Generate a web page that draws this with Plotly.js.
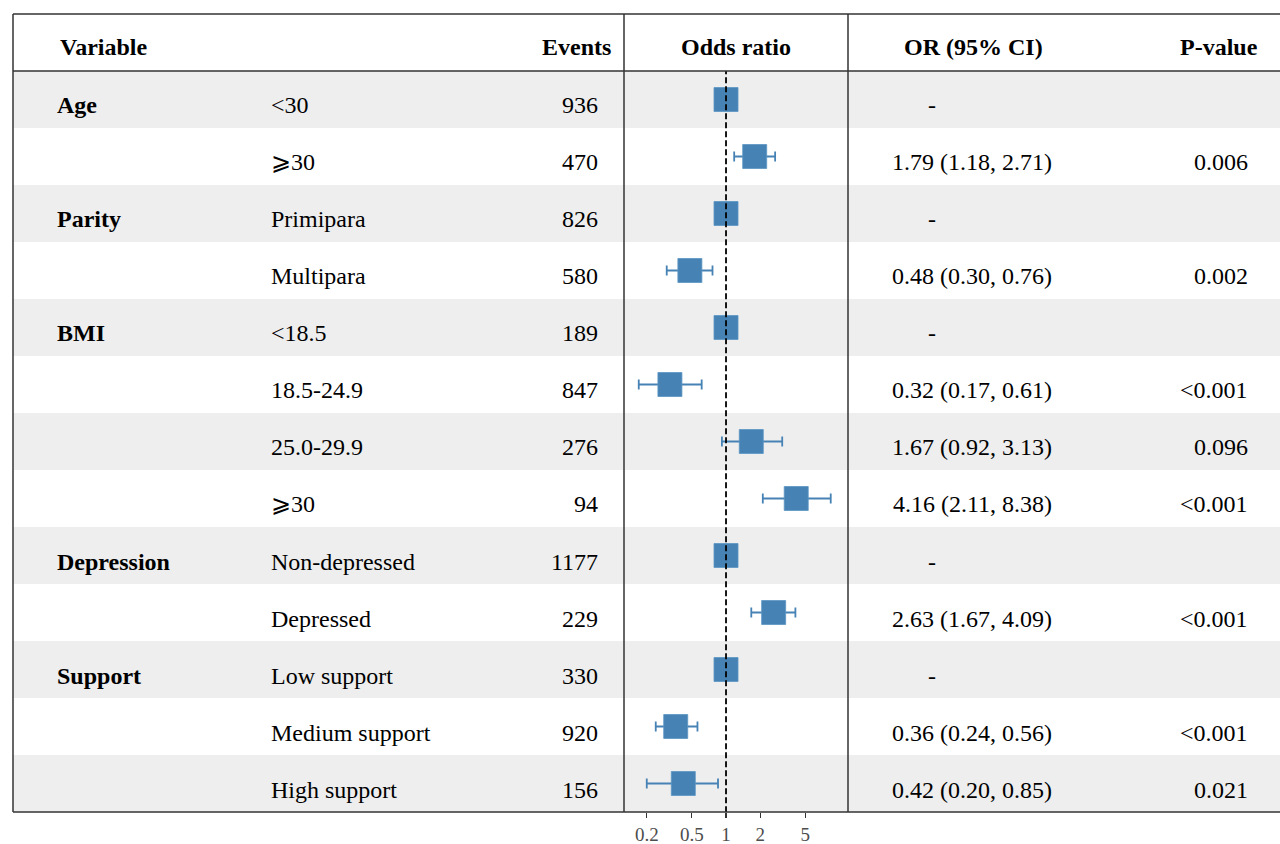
<!DOCTYPE html>
<html>
<head>
<meta charset="utf-8">
<script src="https://cdn.plot.ly/plotly-3.0.1.min.js"></script>
<style>html,body{margin:0;padding:0;background:#fff;}#chart{width:1280px;height:844px;}</style>
</head>
<body>
<div id="chart"></div>
<script>
const groups = ["Age","","Parity","","BMI","","","","Depression","","Support","",""];
const subgroups = ["<30","⩾30","Primipara","Multipara","<18.5","18.5-24.9","25.0-29.9","⩾30","Non-depressed","Depressed","Low support","Medium support","High support"];
const events = [936,470,826,580,189,847,276,94,1177,229,330,920,156];
const oddsRatio = [1,1.79,1,0.48,1,0.32,1.67,4.16,1,2.63,1,0.36,0.42];
const ciLow = [1,1.18,1,0.30,1,0.17,0.92,2.11,1,1.67,1,0.24,0.20];
const ciHigh = [1,2.71,1,0.76,1,0.61,3.13,8.38,1,4.09,1,0.56,0.85];
const orText = ["-","1.79 (1.18, 2.71)","-","0.48 (0.30, 0.76)","-","0.32 (0.17, 0.61)","1.67 (0.92, 3.13)","4.16 (2.11, 8.38)","-","2.63 (1.67, 4.09)","-","0.36 (0.24, 0.56)","0.42 (0.20, 0.85)"];
const pValues = ["","0.006","","0.002","","<0.001","0.096","<0.001","","<0.001","","<0.001","0.021"];
const tickVals = [0.2,0.5,1,2,5];
const tickText = ["0.2","0.5","1","2","5"];
const headers = ["Variable","Events","Odds ratio","OR (95% CI)","P-value"];

const W = 1280, H = 844;
const px = v => v / W;
const py = v => 1 - v / H;
const FONT = "Liberation Serif, DejaVu Serif, Times New Roman, serif";
const BLUE = "#4682B4";
const n = subgroups.length;
const rows = subgroups.map((_, i) => i + 1);

const shapes = [];
rows.forEach(r => {
  if (r % 2 === 1) {
    shapes.push({type:"rect", xref:"paper", yref:"y", x0:px(13), x1:1, y0:r-0.5, y1:r+0.5,
      fillcolor:"#EEEEEE", line:{width:0}, layer:"below"});
  }
});
const lineStyle = {color:"#333333", width:1.5};
shapes.push({type:"line", xref:"paper", yref:"paper", x0:px(13), x1:1, y0:py(14), y1:py(14), line:lineStyle});
shapes.push({type:"line", xref:"paper", yref:"paper", x0:px(13), x1:1, y0:py(71), y1:py(71), line:lineStyle});
shapes.push({type:"line", xref:"paper", yref:"paper", x0:px(13), x1:1, y0:py(812), y1:py(812), line:lineStyle});
shapes.push({type:"line", xref:"paper", yref:"paper", x0:px(13), x1:px(13), y0:py(14), y1:py(812), line:lineStyle});
shapes.push({type:"line", xref:"paper", yref:"paper", x0:px(624), x1:px(624), y0:py(14), y1:py(812), line:lineStyle});
shapes.push({type:"line", xref:"paper", yref:"paper", x0:px(848), x1:px(848), y0:py(14), y1:py(812), line:lineStyle});

const annotations = [];
const txt = (text, x, y, anchor, bold, yref) => ({
  text: bold ? "<b>" + text + "</b>" : text,
  xref:"paper", yref: yref || "y", x: x, y: y, xanchor: anchor, yanchor:"middle",
  showarrow:false, font:{family:FONT, size:24, color:"#000"}, yshift: yref ? 0 : -6
});
const hy = py(47);
annotations.push(txt(headers[0], px(58), hy, "left", true, "paper"));
annotations.push(txt(headers[1], px(613), hy, "right", true, "paper"));
annotations.push(txt(headers[2], px(736), hy, "center", true, "paper"));
annotations.push(txt(headers[3], px(973), hy, "center", true, "paper"));
annotations.push(txt(headers[4], px(1260), hy, "right", true, "paper"));

rows.forEach((r, i) => {
  if (groups[i]) annotations.push(txt(groups[i], px(55), r, "left", true));
  annotations.push(txt(subgroups[i], px(269), r, "left", false));
  annotations.push(txt(String(events[i]), px(600), r, "right", false));
  if (orText[i] === "-") annotations.push(txt(orText[i], px(932), r, "center", false));
  else annotations.push(txt(orText[i], px(972), r, "center", false));
  if (pValues[i]) annotations.push(txt(pValues[i], px(1250), r, "right", false));
});

const traces = [
  {
    type:"scatter", mode:"markers", x: oddsRatio, y: rows,
    marker:{symbol:"square", size:24, color:BLUE, line:{color:"#5b95c4", width:0.8}},
    error_x:{type:"data", symmetric:false,
      array: oddsRatio.map((v, i) => ciHigh[i] - v),
      arrayminus: oddsRatio.map((v, i) => v - ciLow[i]),
      color:BLUE, thickness:1.8, width:5},
    hoverinfo:"skip", showlegend:false
  },
  {
    type:"scatter", mode:"lines", x:[1,1], y:[0.45, n + 0.5],
    line:{color:"#000", width:1.8, dash:"6px,3px"}, hoverinfo:"skip", showlegend:false
  }
];

const layout = {
  width:W, height:H, margin:{l:0, r:0, t:0, b:0},
  paper_bgcolor:"#fff", plot_bgcolor:"rgba(0,0,0,0)",
  showlegend:false,
  xaxis:{type:"log", domain:[px(624), px(848)], range:[Math.log10(0.126), Math.log10(11.9)],
    tickvals:tickVals, ticktext:tickText, ticks:"outside", ticklen:5, tickwidth:1.2, tickcolor:"#333",
    showgrid:false, zeroline:false, showline:false,
    tickfont:{family:FONT, size:19, color:"#4d4d4d"}, fixedrange:true},
  yaxis:{domain:[py(812), py(71)], range:[n + 0.5, 0.5], visible:false, fixedrange:true},
  shapes: shapes,
  annotations: annotations
};

Plotly.newPlot("chart", traces, layout, {displayModeBar:false, staticPlot:true});
</script>
</body>
</html>
